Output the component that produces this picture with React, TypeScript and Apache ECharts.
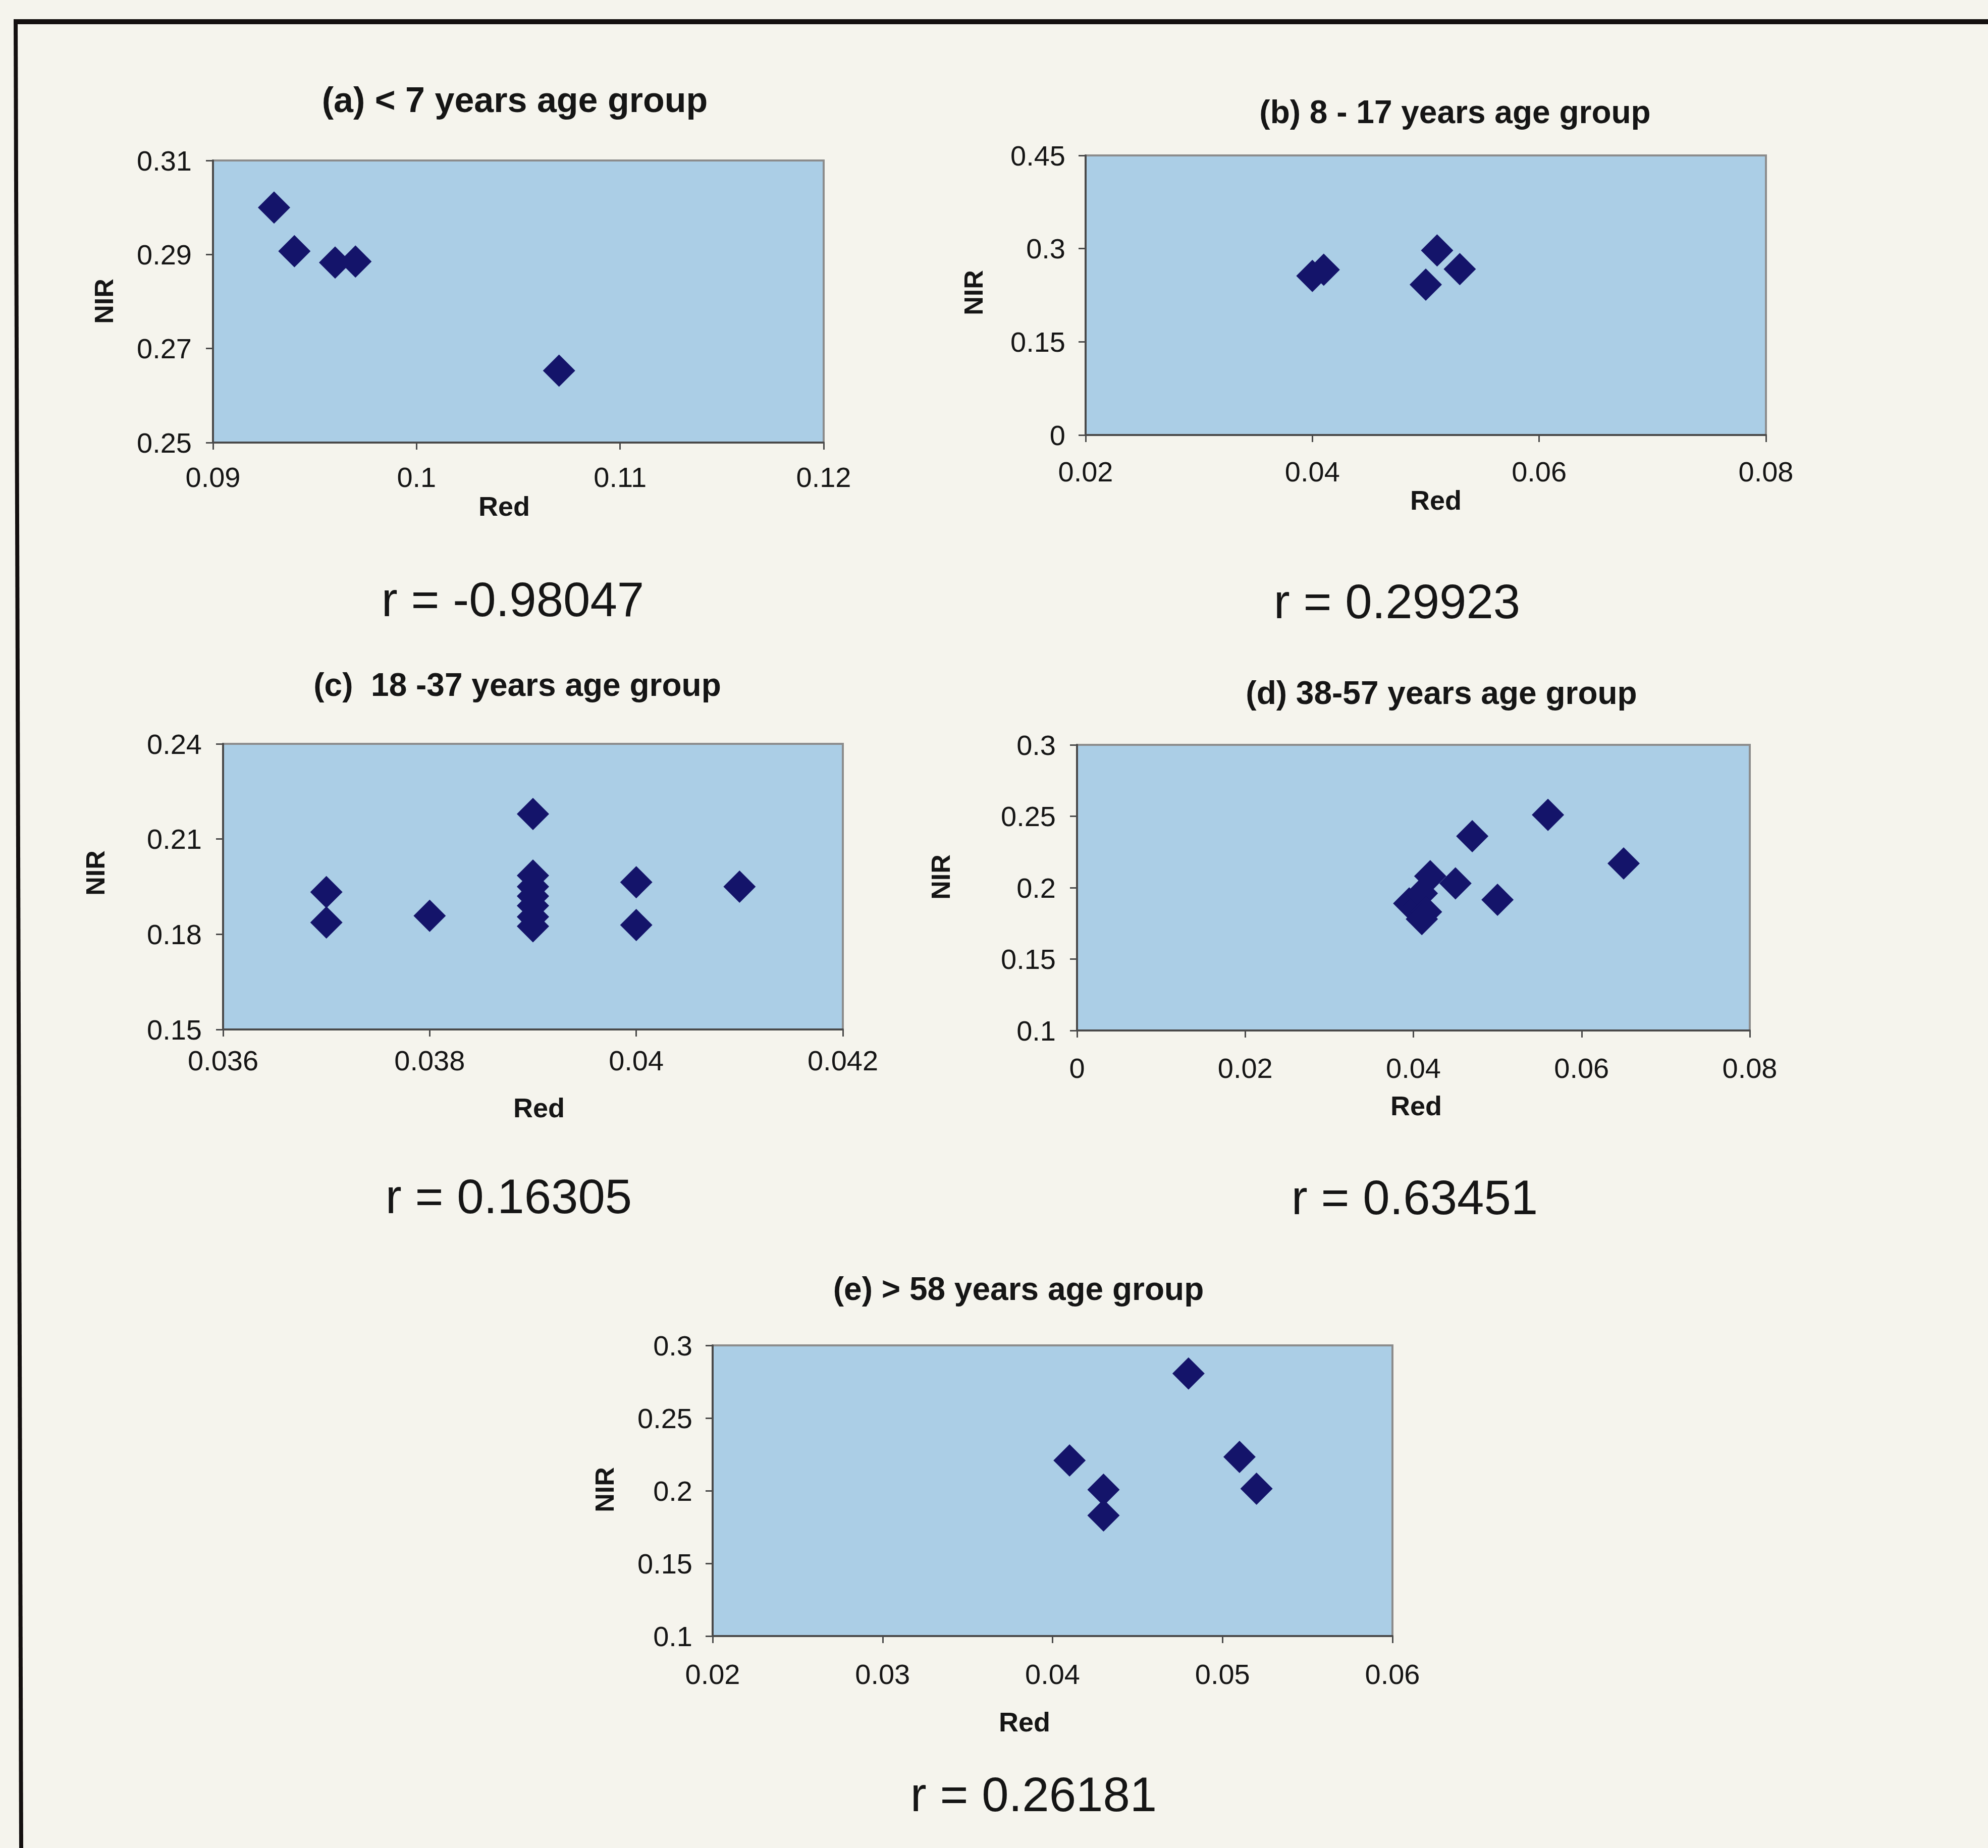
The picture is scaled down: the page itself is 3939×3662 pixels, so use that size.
import React, { useEffect, useRef } from "react";
import * as echarts from "echarts";

// ---- data ----
const titles = [
  "(a) < 7 years age group",
  "(b) 8 - 17 years age group",
  "(c)  18 -37 years age group",
  "(d) 38-57 years age group",
  "(e) > 58 years age group",
];
const rLabels = ["r = -0.98047", "r = 0.29923", "r = 0.16305", "r = 0.63451", "r = 0.26181"];

const redA = [0.093, 0.094, 0.096, 0.097, 0.107];
const nirA = [0.3, 0.2907, 0.2883, 0.2885, 0.2653];

const redB = [0.040, 0.041, 0.050, 0.051, 0.053];
const nirB = [0.256, 0.266, 0.242, 0.297, 0.267];

const redC = [0.037, 0.037, 0.038, 0.039, 0.039, 0.039, 0.039, 0.039, 0.039, 0.039, 0.040, 0.040, 0.041];
const nirC = [0.1933, 0.1837, 0.1858, 0.2179, 0.1985, 0.195, 0.192, 0.189, 0.1855, 0.1825, 0.1964, 0.1829, 0.195];

const redD = [0.0395, 0.0405, 0.041, 0.0415, 0.041, 0.042, 0.045, 0.047, 0.050, 0.056, 0.065];
const nirD = [0.189, 0.186, 0.196, 0.183, 0.178, 0.208, 0.203, 0.236, 0.1915, 0.251, 0.217];

const redE = [0.041, 0.043, 0.043, 0.048, 0.051, 0.052];
const nirE = [0.2208, 0.2007, 0.183, 0.2806, 0.2233, 0.2014];

// axis ranges: [min, max, interval]
const xRanges = [
  [0.09, 0.12, 0.01],
  [0.02, 0.08, 0.02],
  [0.036, 0.042, 0.002],
  [0, 0.08, 0.02],
  [0.02, 0.06, 0.01],
];
const yRanges = [
  [0.25, 0.31, 0.02],
  [0, 0.45, 0.15],
  [0.15, 0.24, 0.03],
  [0.1, 0.3, 0.05],
  [0.1, 0.3, 0.05],
];

const seriesData = [
  [redA, nirA],
  [redB, nirB],
  [redC, nirC],
  [redD, nirD],
  [redE, nirE],
];

// ---- layout (pixels) ----
const grids = [
  { left: 422, top: 318, width: 1210, height: 559 },
  { left: 2151, top: 308, width: 1348, height: 554 },
  { left: 442, top: 1474, width: 1228, height: 566 },
  { left: 2134, top: 1476, width: 1333, height: 566 },
  { left: 1412, top: 2666, width: 1347, height: 576 },
];
const xLabelMargin = [40, 44, 33, 46, 47];
const yLabelMargin = [42, 40, 42, 42, 40];
const titlePos = [
  [1020, 198],
  [2883, 222],
  [1025, 1357],
  [2856, 1373],
  [2018, 2554],
];
const titleSize = [70, 64, 64, 64, 64];
const rPos = [
  [1016, 1187],
  [2768, 1191],
  [1008, 2370],
  [2803, 2372],
  [2048, 3555],
];
const redPos = [
  [999, 1003],
  [2845, 991],
  [1068, 2195],
  [2806, 2191],
  [2030, 3412],
];
const nirPos = [
  [206, 597],
  [1929, 580],
  [189, 1730],
  [1864, 1738],
  [1198, 2952],
];

const FONT = "'Liberation Sans', Arial, Helvetica, sans-serif";
const TEXT = "#151515";
const PLOT_BG = "#abcee6";
const MARK = "#14146a";

const fmt = (v: number) => String(+v.toFixed(4));

export default function App() {
  const ref = useRef<HTMLDivElement>(null);

  useEffect(() => {
    if (!ref.current) return;
    const chart = echarts.init(ref.current, null, { renderer: "svg" });

    const graphic: any[] = [];
    // page frame (scanned page border)
    graphic.push({
      type: "line",
      shape: { x1: 27, y1: 43, x2: 3939, y2: 43 },
      style: { stroke: "#141010", lineWidth: 10 },
    });
    graphic.push({
      type: "line",
      shape: { x1: 31, y1: 38, x2: 42, y2: 3662 },
      style: { stroke: "#141010", lineWidth: 8 },
    });
    for (let i = 0; i < 5; i++) {
      graphic.push({
        type: "text",
        x: titlePos[i][0],
        y: titlePos[i][1],
        style: {
          text: titles[i],
          fontFamily: FONT,
          fontWeight: "bold",
          fontSize: titleSize[i],
          fill: TEXT,
          align: "center",
          verticalAlign: "middle",
        },
      });
      graphic.push({
        type: "text",
        x: rPos[i][0],
        y: rPos[i][1],
        style: {
          text: rLabels[i],
          fontFamily: FONT,
          fontSize: 96,
          fill: TEXT,
          align: "center",
          verticalAlign: "middle",
        },
      });
      graphic.push({
        type: "text",
        x: redPos[i][0],
        y: redPos[i][1],
        style: {
          text: "Red",
          fontFamily: FONT,
          fontWeight: "bold",
          fontSize: 54,
          fill: TEXT,
          align: "center",
          verticalAlign: "middle",
        },
      });
      graphic.push({
        type: "text",
        x: nirPos[i][0],
        y: nirPos[i][1],
        rotation: Math.PI / 2,
        style: {
          text: "NIR",
          fontFamily: FONT,
          fontWeight: "bold",
          fontSize: 52,
          fill: TEXT,
          align: "center",
          verticalAlign: "middle",
        },
      });
    }

    const axisCommon = (margin: number) => ({
      axisLine: { show: true, onZero: false, lineStyle: { color: "#4a4a4a", width: 4 } },
      axisTick: { show: true, inside: false, length: 14, lineStyle: { color: "#4a4a4a", width: 3 } },
      splitLine: { show: false },
      axisLabel: {
        margin,
        fontFamily: FONT,
        fontSize: 56,
        color: TEXT,
        formatter: (v: number) => fmt(v),
        showMinLabel: true,
        showMaxLabel: true,
      },
    });

    const option: any = {
      animation: false,
      backgroundColor: "#f5f4ed",
      grid: grids.map((g) => ({
        ...g,
        show: true,
        backgroundColor: PLOT_BG,
        borderColor: "#8c8c8c",
        borderWidth: 4,
        containLabel: false,
      })),
      xAxis: xRanges.map((r, i) => ({
        type: "value",
        gridIndex: i,
        position: "bottom",
        min: r[0],
        max: r[1],
        interval: r[2],
        ...axisCommon(xLabelMargin[i]),
      })),
      yAxis: yRanges.map((r, i) => ({
        type: "value",
        gridIndex: i,
        position: "left",
        min: r[0],
        max: r[1],
        interval: r[2],
        ...axisCommon(yLabelMargin[i]),
      })),
      series: seriesData.map(([xs, ys], i) => ({
        type: "scatter",
        xAxisIndex: i,
        yAxisIndex: i,
        symbol: "diamond",
        symbolSize: [64, 64],
        itemStyle: { color: MARK, opacity: 1 },
        data: xs.map((x, k) => [x, ys[k]]),
      })),
      graphic,
    };

    chart.setOption(option);
    return () => chart.dispose();
  }, []);

  return (
    <div
      ref={ref}
      style={{ position: "absolute", left: 0, top: 0, width: 3939, height: 3662 }}
    />
  );
}
